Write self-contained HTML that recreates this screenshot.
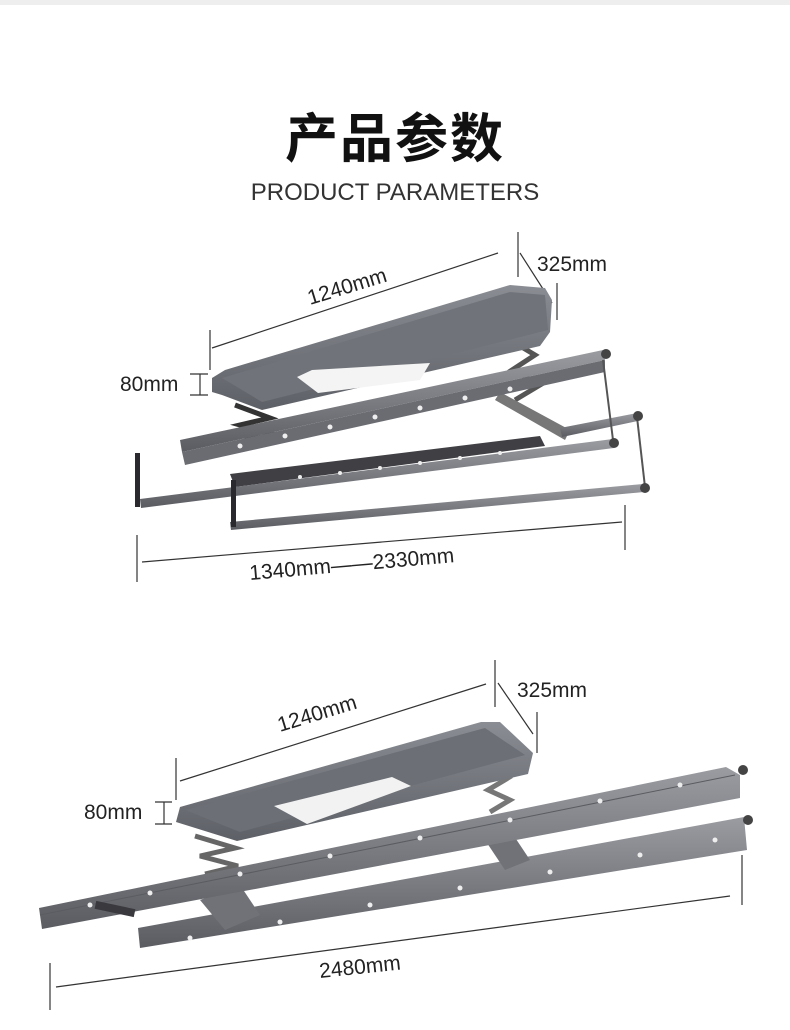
<!DOCTYPE html>
<html><head><meta charset="utf-8"><style>
html,body{margin:0;padding:0;background:#fff;}
body{width:790px;height:1030px;position:relative;overflow:hidden;font-family:"Liberation Sans","Noto Sans CJK SC",sans-serif;}
.strip{position:absolute;left:0;top:0;width:790px;height:5px;background:#eeeeee;}
.t1{position:absolute;left:0;width:790px;top:100px;text-align:center;font-size:53px;font-weight:bold;color:#111;font-family:"Noto Sans CJK SC","WenQuanYi Zen Hei",sans-serif;line-height:70px;letter-spacing:2px;}
.t2{position:absolute;left:0;width:790px;top:177px;text-align:center;font-size:24px;color:#333;line-height:32px;letter-spacing:0px;}
svg{position:absolute;left:0;top:0;}
text{font-family:"Liberation Sans",sans-serif;font-size:21px;fill:#222;}
</style></head><body>
<div class="strip"></div>
<div class="t1">产品参数</div>
<div class="t2">PRODUCT PARAMETERS</div>
<svg width="790" height="1030" viewBox="0 0 790 1030">
<defs>
<linearGradient id="pg" x1="0" y1="0" x2="0" y2="1"><stop offset="0" stop-color="#8a8d93"/><stop offset="1" stop-color="#5d6066"/></linearGradient>
<linearGradient id="rg" x1="0" y1="0" x2="0" y2="1"><stop offset="0" stop-color="#9a9ca1"/><stop offset="1" stop-color="#5a5c62"/></linearGradient>
</defs>
<g stroke="#333" stroke-width="1.2" fill="none">
<line x1="212" y1="348" x2="498" y2="253"/>
<line x1="518" y1="232" x2="518" y2="277"/>
<line x1="520" y1="253" x2="552" y2="303"/>
<line x1="557" y1="283" x2="557" y2="320"/>
<line x1="210" y1="330" x2="210" y2="370"/>
<line x1="190" y1="374" x2="208" y2="374"/><line x1="190" y1="395" x2="208" y2="395"/><line x1="200" y1="374" x2="200" y2="395"/>
<line x1="142" y1="562" x2="622" y2="522"/>
<line x1="137" y1="535" x2="137" y2="582"/>
<line x1="625" y1="505" x2="625" y2="550"/>
<line x1="180" y1="781" x2="486" y2="684"/>
<line x1="495" y1="660" x2="495" y2="707"/>
<line x1="498" y1="683" x2="533" y2="734"/>
<line x1="537" y1="712" x2="537" y2="753"/>
<line x1="176" y1="758" x2="176" y2="800"/>
<line x1="155" y1="802" x2="172" y2="802"/><line x1="155" y1="824" x2="172" y2="824"/><line x1="164" y1="802" x2="164" y2="824"/>
<line x1="56" y1="987" x2="730" y2="896"/>
<line x1="50" y1="963" x2="50" y2="1010"/>
<line x1="742" y1="855" x2="742" y2="905"/>
</g>
<text x="0" y="0" transform="translate(310,305) rotate(-17)">1240mm</text>
<text x="537" y="271">325mm</text>
<text x="120" y="391">80mm</text>
<text x="0" y="0" transform="translate(250,580) rotate(-5)">1340mm——2330mm</text>
<text x="0" y="0" transform="translate(280,732) rotate(-17)">1240mm</text>
<text x="517" y="697">325mm</text>
<text x="84" y="819">80mm</text>
<text x="0" y="0" transform="translate(320,978) rotate(-6)">2480mm</text>

<g>
<path d="M235 405 L270 418 L240 425 L275 435 L245 440" stroke="#333" stroke-width="5" fill="none"/>
<path d="M510 340 L535 355 L512 370 L540 385 L515 400" stroke="#555" stroke-width="5" fill="none"/>
<polygon points="230,474 540,436 545,446 235,487" fill="#3f3f44"/>
<polygon points="500,392 570,430 565,440 495,400" fill="#777"/>
<polygon points="560,428 637,413 638,421 562,437" fill="url(#rg)"/>
<polygon points="212,378 225,370 510,285 545,288 552,300 550,332 540,346 262,410 222,395 212,392" fill="url(#pg)"/>
<polygon points="222,378 510,292 545,295 548,330 262,402" fill="#707379"/>
<polygon points="297,377 312,370 430,363 420,380 318,393" fill="#f4f4f4"/>
<polygon points="180,440 603,350 605,360 182,452" fill="url(#rg)"/>
<polygon points="182,452 605,360 605,372 185,465" fill="#6a6c72"/>
<polygon points="140,499 613,439 614,448 141,508" fill="url(#rg)"/>
<polygon points="230,522 643,484 644,492 231,530" fill="url(#rg)"/>
<rect x="135" y="453" width="5" height="54" fill="#2a2a2e"/>
<rect x="231" y="480" width="5" height="47" fill="#2a2a2e"/>
<line x1="603" y1="360" x2="613" y2="440" stroke="#555" stroke-width="2"/>
<line x1="637" y1="417" x2="645" y2="487" stroke="#555" stroke-width="2"/>
<circle cx="606" cy="354" r="5" fill="#444"/><circle cx="638" cy="416" r="5" fill="#444"/>
<circle cx="614" cy="443" r="5" fill="#444"/><circle cx="645" cy="488" r="5" fill="#444"/>
<g fill="#eee">
<circle cx="240" cy="446" r="2.5"/><circle cx="285" cy="436" r="2.5"/><circle cx="330" cy="427" r="2.5"/><circle cx="375" cy="417" r="2.5"/><circle cx="420" cy="408" r="2.5"/><circle cx="465" cy="398" r="2.5"/><circle cx="510" cy="389" r="2.5"/>
<circle cx="300" cy="477" r="2"/><circle cx="340" cy="473" r="2"/><circle cx="380" cy="468" r="2"/><circle cx="420" cy="463" r="2"/><circle cx="460" cy="458" r="2"/><circle cx="500" cy="453" r="2"/>
</g>
</g>

<g>
<path d="M195 836 L235 848 L200 856 L238 866 L205 874" stroke="#666" stroke-width="5" fill="none"/>
<path d="M485 765 L508 778 L488 790 L510 800 L490 812" stroke="#777" stroke-width="5" fill="none"/>
<polygon points="138,928 744,817 747,850 140,948" fill="url(#rg)"/>
<polygon points="200,900 240,885 260,915 225,930" fill="#707277"/>
<polygon points="485,840 510,830 530,860 505,870" fill="#707277"/>
<polygon points="180,807 481,722 500,722 533,753 528,774 237,841 176,822" fill="url(#pg)"/>
<polygon points="185,810 485,728 525,755 240,832" fill="#6c6f75"/>
<polygon points="274,806 392,777 411,786 307,824" fill="#f2f2f2"/>
<polygon points="39,908 726,767 740,775 740,798 42,929" fill="url(#rg)"/>
<line x1="40" y1="915" x2="735" y2="775" stroke="#5a5c62" stroke-width="1"/>
<circle cx="743" cy="770" r="5" fill="#444"/><circle cx="748" cy="820" r="5" fill="#444"/>
<rect x="95" y="905" width="40" height="8" fill="#3a3a3e" transform="rotate(12 115 909)"/>
<g fill="#eee">
<circle cx="90" cy="905" r="2.5"/><circle cx="150" cy="893" r="2.5"/><circle cx="240" cy="874" r="2.5"/><circle cx="330" cy="856" r="2.5"/><circle cx="420" cy="838" r="2.5"/><circle cx="510" cy="820" r="2.5"/><circle cx="600" cy="801" r="2.5"/><circle cx="680" cy="785" r="2.5"/>
<circle cx="190" cy="938" r="2.5"/><circle cx="280" cy="922" r="2.5"/><circle cx="370" cy="905" r="2.5"/><circle cx="460" cy="888" r="2.5"/><circle cx="550" cy="872" r="2.5"/><circle cx="640" cy="855" r="2.5"/><circle cx="715" cy="840" r="2.5"/>
</g>
</g>
</svg>
</body></html>
